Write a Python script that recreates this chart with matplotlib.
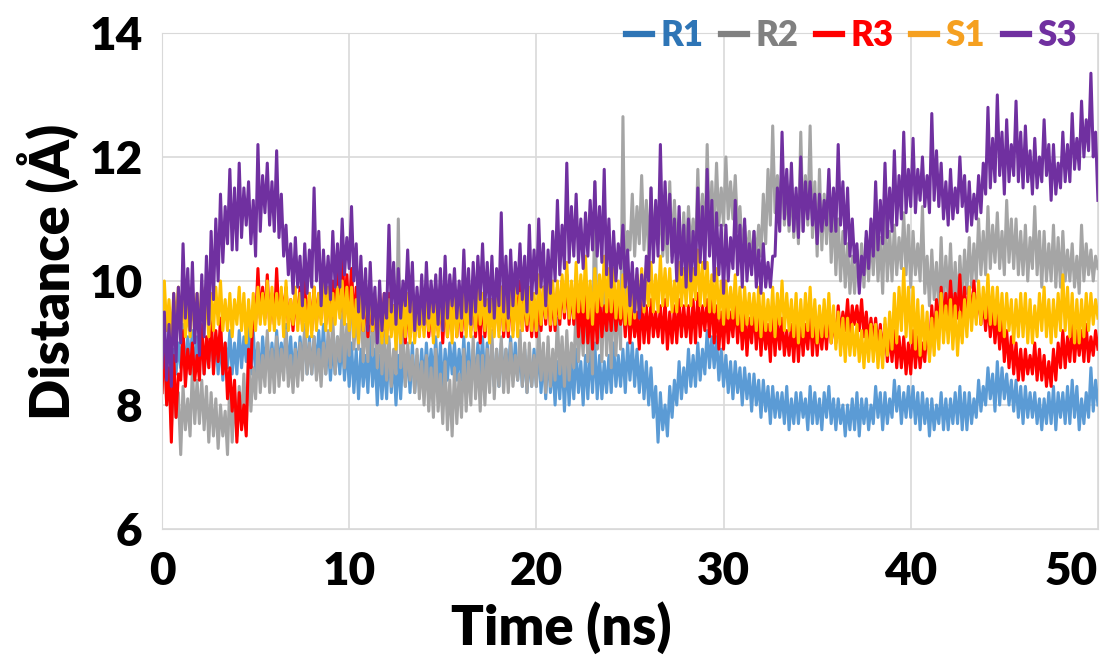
import numpy as np
import matplotlib
matplotlib.use("Agg")
import matplotlib.pyplot as plt

# time axis, one frame every 0.125 ns
time = np.linspace(0, 50, 401)

# distances (Angstrom), one row = 2 ns
r1 = [8.5, 9.1, 8.6, 9.2, 8.3, 8.9, 8.5, 9.0, 8.6, 9.3, 8.4, 9.1, 8.7, 9.2, 8.5, 9.1,
      8.6, 9.2, 8.5, 9.0, 8.7, 9.3, 8.6, 9.1, 8.5, 9.1, 8.4, 9.0, 8.6, 9.2, 8.5, 9.0,
      8.5, 9.2, 8.6, 9.1, 8.7, 9.3, 8.5, 9.2, 8.5, 9.0, 8.4, 9.1, 8.6, 9.1, 8.5, 9.0,
      8.5, 9.2, 8.6, 9.0, 8.6, 9.3, 8.5, 9.1, 8.4, 9.0, 8.5, 9.1, 8.6, 9.2, 8.5, 9.1,
      8.5, 9.1, 8.6, 9.2, 8.6, 9.3, 8.5, 9.0, 8.4, 9.0, 8.5, 9.1, 8.5, 9.1, 8.4, 9.0,
      8.3, 9.0, 8.2, 8.9, 8.1, 8.9, 8.3, 8.8, 8.2, 9.1, 8.3, 8.9, 8.0, 8.8, 8.1, 8.7,
      8.1, 9.0, 8.2, 8.8, 8.0, 8.8, 8.1, 8.9, 8.3, 8.9, 8.2, 9.0, 8.2, 8.8, 8.3, 8.9,
      8.3, 9.0, 8.4, 8.9, 8.4, 9.1, 8.3, 9.0, 8.2, 8.9, 8.4, 9.0, 8.5, 9.0, 8.4, 8.9,
      8.4, 9.1, 8.3, 9.0, 8.3, 8.9, 8.4, 9.0, 8.5, 9.1, 8.3, 9.0, 8.4, 8.9, 8.3, 8.9,
      8.3, 9.0, 8.4, 8.9, 8.5, 9.1, 8.4, 9.0, 8.4, 8.9, 8.3, 8.9, 8.2, 8.8, 8.3, 8.9,
      8.3, 9.0, 8.2, 8.8, 8.1, 8.9, 8.2, 8.7, 8.0, 8.7, 8.1, 8.8, 7.9, 8.8, 8.0, 8.7,
      8.1, 8.9, 8.2, 8.7, 8.0, 8.8, 8.1, 8.9, 8.2, 9.0, 8.1, 8.8, 8.1, 8.7, 8.2, 8.8,
      8.2, 9.0, 8.3, 8.8, 8.3, 8.9, 8.2, 9.0, 8.4, 9.0, 8.3, 8.9, 8.2, 8.8, 8.1, 8.7,
      8.0, 8.6, 7.8, 8.3, 7.4, 8.2, 7.6, 8.0, 7.5, 8.3, 7.8, 8.4, 8.0, 8.7, 8.1, 8.6,
      8.2, 8.9, 8.3, 8.8, 8.3, 9.0, 8.4, 8.9, 8.5, 9.2, 8.6, 9.1, 8.6, 9.1, 8.4, 8.9,
      8.3, 8.8, 8.2, 8.7, 8.1, 8.7, 8.2, 8.6, 8.0, 8.6, 8.1, 8.5, 7.9, 8.5, 8.0, 8.4,
      7.8, 8.4, 7.9, 8.3, 7.7, 8.3, 7.8, 8.2, 7.8, 8.2, 7.7, 8.3, 7.6, 8.1, 7.7, 8.2,
      7.7, 8.2, 7.8, 8.1, 7.6, 8.3, 7.7, 8.2, 7.7, 8.1, 7.6, 8.2, 7.8, 8.3, 7.7, 8.1,
      7.6, 8.1, 7.7, 8.0, 7.5, 8.0, 7.6, 8.1, 7.6, 8.2, 7.5, 8.1, 7.7, 8.1, 7.6, 8.0,
      7.7, 8.3, 7.8, 8.2, 7.6, 8.2, 7.7, 8.1, 7.8, 8.4, 7.9, 8.3, 7.7, 8.2, 7.8, 8.3,
      7.8, 8.3, 7.7, 8.2, 7.6, 8.2, 7.7, 8.1, 7.5, 8.1, 7.6, 8.0, 7.7, 8.2, 7.6, 8.1,
      7.6, 8.1, 7.7, 8.2, 7.7, 8.3, 7.6, 8.2, 7.6, 8.2, 7.7, 8.1, 7.8, 8.4, 7.9, 8.3,
      8.0, 8.6, 8.1, 8.5, 7.9, 8.7, 8.0, 8.6, 8.1, 8.5, 8.0, 8.4, 7.9, 8.4, 7.8, 8.3,
      7.7, 8.3, 7.8, 8.2, 7.8, 8.2, 7.7, 8.1, 7.6, 8.1, 7.7, 8.2, 7.7, 8.3, 7.6, 8.2,
      7.8, 8.2, 7.7, 8.3, 7.7, 8.4, 7.8, 8.3, 7.6, 8.1, 7.7, 8.2, 7.8, 8.6, 7.9, 8.4,
      8.0]

r2 = [8.2, 9.0, 8.0, 8.7, 7.6, 8.5, 7.8, 8.2, 7.2, 8.3, 7.6, 8.1, 7.5, 8.6, 7.7, 8.4,
      7.7, 8.4, 7.6, 8.3, 7.4, 8.2, 7.5, 8.1, 7.3, 8.0, 7.5, 7.9, 7.2, 8.4, 7.4, 8.2,
      7.5, 8.3, 7.7, 8.5, 7.6, 8.8, 7.9, 8.6, 8.1, 9.0, 8.2, 8.8, 8.3, 9.2, 8.2, 8.9,
      8.2, 9.1, 8.3, 8.9, 8.4, 9.2, 8.3, 8.8, 8.2, 8.9, 8.3, 9.0, 8.4, 9.3, 8.5, 9.0,
      8.5, 9.1, 8.4, 8.9, 8.3, 9.0, 8.5, 9.2, 8.6, 9.4, 8.5, 9.1, 8.7, 9.6, 8.6, 9.3,
      8.8, 10.2, 8.9, 9.5, 8.9, 9.8, 8.7, 9.4, 8.7, 10.0, 8.8, 9.6, 8.6, 9.4, 8.5, 9.2,
      8.4, 9.1, 8.3, 8.9, 8.5, 11.0, 8.6, 9.2, 8.3, 9.0, 8.4, 8.8, 8.2, 8.9, 8.1, 8.7,
      8.0, 8.8, 7.9, 8.6, 7.8, 8.9, 7.9, 8.5, 7.7, 8.7, 7.6, 8.4, 7.5, 8.6, 7.7, 8.5,
      7.8, 8.9, 7.9, 8.7, 8.0, 9.1, 8.1, 8.8, 7.9, 8.8, 8.0, 8.9, 8.2, 9.2, 8.1, 8.9,
      8.3, 9.1, 8.2, 8.9, 8.2, 9.0, 8.3, 8.8, 8.4, 9.2, 8.3, 9.0, 8.2, 9.0, 8.3, 8.8,
      8.3, 9.3, 8.4, 9.0, 8.2, 9.1, 8.3, 8.9, 8.4, 9.4, 8.5, 9.1, 8.3, 9.2, 8.4, 9.0,
      8.6, 9.6, 8.7, 9.4, 8.8, 9.8, 8.7, 9.5, 8.5, 11.6, 8.9, 9.6, 8.7, 9.9, 8.8, 9.7,
      8.6, 10.0, 8.8, 9.7, 8.9, 12.65, 9.6, 10.8, 10.5, 11.4, 10.4, 11.2, 10.6, 11.7, 10.5, 11.3,
      10.4, 11.5, 10.5, 11.2, 10.6, 11.2, 10.4, 11.0, 10.3, 11.6, 10.4, 11.3, 10.5, 11.0, 10.3, 11.1,
      10.3, 11.2, 10.5, 11.0, 10.4, 11.8, 10.6, 11.4, 10.5, 12.2, 10.7, 11.6, 10.8, 11.9, 10.9, 11.5,
      10.9, 12.0, 11.0, 11.6, 11.0, 11.7, 10.8, 11.2, 10.5, 10.9, 10.4, 10.8, 10.3, 10.8, 10.4, 10.9,
      10.4, 11.4, 10.6, 11.8, 10.9, 12.5, 11.1, 11.7, 11.0, 11.9, 10.9, 11.5, 10.8, 11.6, 10.7, 11.4,
      10.6, 12.4, 10.8, 11.7, 10.9, 12.5, 10.7, 11.6, 10.4, 11.8, 10.5, 11.4, 10.6, 11.5, 10.3, 11.2,
      10.1, 11.0, 10.0, 10.8, 9.9, 10.6, 9.8, 10.4, 9.8, 10.5, 9.9, 10.6, 9.9, 10.7, 10.0, 10.8,
      10.1, 11.0, 10.0, 10.7, 9.8, 11.1, 10.0, 10.8, 10.0, 10.9, 10.1, 10.7, 10.2, 11.1, 10.1, 10.9,
      9.9, 10.8, 10.1, 10.6, 10.0, 11.2, 9.8, 10.4, 9.6, 10.5, 9.7, 10.3, 9.5, 10.7, 9.6, 10.4,
      9.7, 10.6, 9.6, 10.3, 9.5, 10.4, 9.7, 10.5, 9.8, 10.7, 9.9, 10.6, 10.0, 11.0, 10.1, 10.8,
      10.1, 11.2, 10.2, 10.9, 10.3, 11.1, 10.2, 10.8, 10.1, 11.3, 10.3, 11.0, 10.2, 11.0, 10.1, 10.8,
      10.1, 10.9, 10.0, 10.7, 10.2, 11.2, 10.1, 10.8, 9.9, 10.8, 10.0, 10.6, 10.0, 10.9, 9.9, 10.7,
      9.9, 10.8, 10.0, 10.5, 10.0, 10.6, 9.9, 10.4, 9.8, 10.9, 10.0, 10.6, 10.1, 10.5, 10.0, 10.4,
      10.2]

r3 = [8.2, 9.1, 8.0, 8.6, 7.4, 8.8, 7.8, 8.5, 8.4, 9.2, 8.3, 8.9, 8.5, 9.0, 8.4, 8.8,
      8.4, 9.3, 8.5, 9.1, 8.6, 9.5, 8.5, 9.2, 8.7, 9.4, 8.5, 9.0, 8.1, 8.6, 7.9, 8.4,
      7.4, 8.2, 7.6, 8.0, 7.5, 8.9, 8.6, 9.6, 9.3, 10.2, 9.4, 9.9, 9.4, 10.1, 9.3, 9.8,
      9.3, 10.2, 9.4, 9.8, 9.5, 9.9, 9.3, 9.7, 9.2, 9.8, 9.3, 9.9, 9.3, 10.0, 9.2, 9.8,
      9.2, 9.9, 9.3, 9.8, 9.4, 10.1, 9.3, 9.9, 9.3, 10.0, 9.4, 10.2, 9.5, 10.7, 9.4, 10.1,
      9.4, 10.2, 9.3, 9.9, 9.3, 9.9, 9.2, 9.8, 9.1, 9.8, 9.2, 9.7, 9.2, 9.7, 9.1, 9.8,
      9.1, 9.8, 9.2, 9.6, 9.2, 9.7, 9.1, 9.8, 9.0, 9.6, 9.1, 9.7, 9.1, 9.7, 9.2, 9.6,
      9.2, 9.8, 9.1, 9.6, 9.1, 9.7, 9.2, 9.8, 9.0, 9.8, 9.1, 9.7, 9.2, 9.9, 9.1, 9.7,
      9.1, 9.7, 9.2, 9.8, 9.2, 9.9, 9.1, 9.7, 9.0, 9.8, 9.1, 9.6, 9.3, 9.7, 9.2, 9.8,
      9.2, 9.9, 9.1, 9.7, 9.1, 9.8, 9.2, 9.9, 9.3, 10.0, 9.2, 9.8, 9.2, 9.8, 9.1, 9.7,
      9.1, 9.7, 9.2, 9.9, 9.3, 10.0, 9.2, 9.8, 9.2, 9.9, 9.3, 10.0, 9.4, 10.1, 9.3, 9.9,
      9.3, 9.9, 9.1, 9.7, 9.0, 9.8, 9.0, 9.6, 8.9, 9.7, 9.0, 9.8, 9.1, 9.6, 9.2, 9.7,
      9.2, 9.8, 9.2, 9.6, 9.3, 9.7, 9.1, 9.8, 9.0, 9.6, 9.1, 9.5, 8.9, 9.7, 9.0, 9.6,
      9.0, 9.7, 9.1, 9.5, 9.1, 9.6, 9.0, 9.7, 8.9, 9.5, 9.0, 9.6, 9.0, 9.7, 9.1, 9.6,
      9.1, 9.6, 9.0, 9.7, 9.0, 9.8, 9.1, 9.6, 9.2, 9.7, 9.1, 9.8, 9.0, 9.6, 8.9, 9.5,
      8.9, 9.6, 9.0, 9.5, 9.1, 9.7, 9.0, 9.6, 8.9, 9.5, 8.8, 9.4, 9.0, 9.6, 8.9, 9.5,
      8.8, 9.4, 8.9, 9.3, 8.7, 9.5, 8.8, 9.4, 8.9, 9.4, 8.8, 9.2, 8.8, 9.3, 8.7, 9.4,
      8.7, 9.4, 8.8, 9.3, 8.9, 9.5, 8.8, 9.4, 8.8, 9.3, 8.9, 9.4, 8.9, 9.5, 9.0, 9.4,
      9.0, 9.6, 9.1, 9.5, 9.2, 9.7, 9.1, 9.6, 9.3, 9.6, 9.2, 9.7, 9.1, 9.5, 9.0, 9.4,
      9.0, 9.4, 8.9, 9.3, 8.8, 9.3, 8.7, 9.2, 8.7, 9.2, 8.6, 9.1, 8.6, 9.1, 8.5, 9.0,
      8.5, 9.2, 8.6, 9.1, 8.6, 9.0, 8.7, 9.3, 8.8, 9.6, 9.0, 9.7, 9.2, 9.9, 9.3, 9.8,
      9.3, 10.0, 9.4, 9.8, 9.4, 10.1, 9.3, 9.9, 9.3, 9.9, 9.4, 10.0, 9.4, 9.8, 9.3, 9.7,
      9.2, 9.7, 9.1, 9.6, 9.0, 9.5, 8.9, 9.4, 8.7, 9.2, 8.6, 9.1, 8.5, 9.0, 8.4, 8.9,
      8.4, 8.9, 8.5, 8.8, 8.5, 9.0, 8.4, 8.9, 8.4, 8.8, 8.3, 8.7, 8.3, 8.9, 8.4, 9.0,
      8.6, 9.2, 8.6, 9.1, 8.7, 9.3, 8.7, 9.2, 8.8, 9.2, 8.7, 9.3, 8.7, 9.1, 8.8, 9.2,
      8.9]

s1 = [9.4, 10.0, 9.2, 9.7, 9.0, 9.8, 9.3, 9.9, 9.2, 9.9, 9.1, 9.6, 9.1, 9.7, 9.3, 9.8,
      9.2, 9.9, 9.3, 9.7, 9.1, 9.8, 9.2, 9.9, 9.3, 10.0, 9.2, 9.7, 9.2, 9.8, 9.1, 9.7,
      9.3, 9.9, 9.2, 9.8, 9.0, 9.7, 9.1, 9.8, 9.2, 9.9, 9.3, 9.8, 9.3, 10.0, 9.2, 9.9,
      9.2, 9.8, 9.3, 9.9, 9.1, 10.0, 9.2, 9.7, 9.3, 9.9, 9.2, 9.8, 9.2, 9.7, 9.1, 9.8,
      9.1, 9.9, 9.2, 9.8, 9.3, 10.1, 9.2, 9.9, 9.2, 9.8, 9.3, 9.9, 9.4, 10.0, 9.3, 9.9,
      9.2, 9.9, 9.1, 9.7, 9.0, 9.8, 9.2, 9.9, 9.3, 9.9, 9.2, 9.7, 9.1, 9.8, 9.0, 9.7,
      9.0, 9.7, 9.1, 9.6, 8.9, 9.6, 9.0, 9.7, 9.1, 9.8, 9.0, 9.7, 9.0, 9.6, 9.1, 9.7,
      9.1, 9.8, 9.2, 9.7, 9.0, 9.7, 9.1, 9.8, 9.2, 9.9, 9.1, 9.8, 9.0, 9.8, 9.1, 9.7,
      9.2, 9.9, 9.1, 9.8, 9.1, 10.0, 9.2, 9.9, 9.3, 9.8, 9.2, 9.7, 9.0, 9.7, 9.1, 9.8,
      9.1, 9.9, 9.2, 9.8, 9.2, 10.0, 9.1, 9.9, 9.1, 9.8, 9.2, 9.9, 9.3, 9.9, 9.2, 9.8,
      9.2, 10.1, 9.3, 9.9, 9.4, 10.2, 9.3, 10.0, 9.3, 10.0, 9.4, 10.1, 9.5, 10.3, 9.4, 10.0,
      9.4, 10.3, 9.5, 10.1, 9.5, 10.4, 9.4, 10.0, 9.3, 10.2, 9.5, 10.1, 9.6, 10.4, 9.5, 10.2,
      9.5, 10.2, 9.4, 10.0, 9.4, 10.1, 9.3, 9.9, 9.3, 10.0, 9.4, 10.1, 9.5, 10.2, 9.5, 10.0,
      9.6, 10.3, 9.5, 10.1, 9.5, 10.4, 9.6, 10.2, 9.6, 10.2, 9.5, 10.0, 9.5, 10.3, 9.6, 10.2,
      9.6, 10.4, 9.6, 10.2, 9.7, 10.5, 9.6, 10.3, 9.6, 10.3, 9.5, 10.1, 9.5, 10.2, 9.4, 10.0,
      9.3, 10.0, 9.4, 9.9, 9.4, 10.1, 9.3, 9.9, 9.2, 9.9, 9.3, 9.8, 9.3, 9.8, 9.2, 9.9,
      9.1, 9.8, 9.2, 9.7, 9.2, 9.9, 9.1, 9.8, 9.3, 10.0, 9.2, 9.8, 9.2, 9.7, 9.1, 9.8,
      9.0, 9.7, 9.1, 9.8, 9.2, 9.9, 9.1, 9.7, 9.0, 9.6, 9.1, 9.7, 9.1, 9.8, 9.0, 9.6,
      8.9, 9.5, 8.8, 9.4, 8.7, 9.4, 8.8, 9.3, 8.8, 9.3, 8.7, 9.2, 8.6, 9.2, 8.7, 9.3,
      8.7, 9.3, 8.6, 9.2, 8.6, 9.4, 8.8, 9.5, 8.9, 9.8, 9.0, 9.9, 9.2, 10.2, 9.1, 9.9,
      9.0, 9.9, 8.9, 9.7, 8.8, 9.6, 8.9, 9.5, 8.7, 9.4, 8.8, 9.5, 8.9, 9.8, 9.0, 9.6,
      9.0, 9.7, 8.9, 9.6, 8.8, 9.5, 9.0, 9.7, 9.1, 9.9, 9.2, 9.8, 9.3, 10.0, 9.3, 9.9,
      9.4, 10.1, 9.3, 9.9, 9.3, 9.9, 9.2, 9.8, 9.1, 9.8, 9.2, 9.7, 9.0, 9.7, 9.1, 9.8,
      9.1, 9.8, 9.0, 9.7, 9.0, 9.6, 9.1, 9.8, 9.2, 9.9, 9.1, 9.7, 9.0, 9.7, 9.1, 9.8,
      9.2, 10.1, 9.2, 9.9, 9.1, 9.8, 9.0, 9.7, 9.0, 9.7, 9.1, 9.8, 9.2, 9.8, 9.3, 9.7,
      9.4]

s3 = [8.6, 9.5, 8.4, 9.3, 8.3, 9.8, 8.7, 9.9, 9.0, 10.6, 9.4, 10.2, 9.2, 10.3, 9.0, 9.8,
      8.8, 10.1, 9.1, 10.4, 9.3, 10.8, 9.7, 11.0, 10.0, 11.4, 10.3, 11.2, 10.6, 11.8, 10.5, 11.5,
      10.5, 11.9, 10.7, 11.5, 10.9, 11.6, 10.6, 11.3, 10.4, 12.2, 10.8, 11.7, 11.1, 11.9, 10.9, 11.6,
      10.8, 12.1, 10.7, 11.4, 10.4, 10.9, 10.1, 10.6, 9.8, 10.7, 9.9, 10.4, 9.6, 10.6, 9.8, 10.5,
      9.9, 11.5, 10.0, 10.8, 9.6, 10.5, 9.8, 10.4, 9.7, 10.8, 9.9, 10.6, 9.9, 11.0, 10.1, 10.7,
      10.2, 11.2, 10.0, 10.6, 9.5, 10.4, 9.4, 10.2, 9.2, 10.3, 9.3, 9.9, 9.0, 10.0, 9.2, 9.8,
      9.4, 10.9, 9.5, 10.3, 9.3, 10.2, 9.4, 10.0, 9.6, 10.5, 9.5, 10.3, 9.2, 9.9, 9.3, 10.1,
      9.3, 10.3, 9.4, 10.0, 9.5, 10.1, 9.3, 10.2, 9.2, 10.4, 9.4, 10.1, 9.6, 10.2, 9.4, 10.0,
      9.4, 10.5, 9.5, 10.2, 9.3, 10.3, 9.5, 10.4, 9.7, 10.6, 9.6, 10.3, 9.5, 10.4, 9.4, 10.2,
      9.6, 11.1, 9.5, 10.4, 9.4, 10.5, 9.6, 10.3, 9.8, 10.6, 9.7, 10.4, 9.5, 10.9, 9.7, 10.5,
      9.8, 11.0, 9.9, 10.6, 9.6, 10.5, 9.8, 10.8, 10.0, 11.3, 10.1, 10.9, 10.2, 11.9, 10.3, 11.2,
      10.4, 11.4, 10.3, 11.0, 10.2, 11.1, 10.4, 11.3, 10.5, 11.6, 10.4, 11.2, 10.3, 11.8, 10.1, 11.0,
      9.9, 10.8, 10.0, 10.6, 10.2, 10.9, 9.9, 10.5, 9.6, 10.3, 9.5, 10.2, 9.4, 10.1, 9.6, 10.4,
      10.0, 11.5, 10.3, 11.3, 10.4, 12.2, 10.5, 11.6, 10.6, 11.4, 10.3, 11.0, 10.0, 11.2, 10.1, 10.9,
      9.9, 11.0, 10.0, 10.8, 10.1, 11.5, 10.3, 11.2, 10.2, 11.8, 10.4, 11.3, 10.0, 11.1, 10.1, 10.9,
      9.8, 10.9, 10.0, 10.7, 10.2, 11.3, 10.1, 10.9, 9.9, 11.0, 10.0, 10.6, 10.1, 10.8, 9.9, 10.5,
      9.8, 10.6, 9.9, 10.3, 9.9, 10.4, 10.4, 11.5, 10.8, 12.4, 11.0, 11.8, 10.9, 11.9, 10.8, 11.5,
      10.7, 12.0, 10.8, 11.6, 11.0, 11.6, 10.9, 11.4, 10.6, 11.4, 10.8, 11.3, 10.9, 11.8, 10.8, 11.5,
      10.8, 12.2, 10.9, 11.6, 10.6, 11.5, 10.4, 11.0, 10.3, 10.6, 9.8, 10.4, 10.1, 10.8, 10.2, 11.0,
      10.4, 11.6, 10.5, 11.3, 10.6, 11.9, 10.7, 11.5, 10.8, 12.1, 10.9, 11.7, 11.0, 12.4, 11.1, 11.8,
      11.2, 12.3, 11.1, 11.8, 11.3, 12.0, 11.2, 11.7, 11.1, 12.7, 11.3, 12.1, 11.2, 11.9, 11.0, 11.6,
      10.9, 11.8, 11.0, 11.5, 11.1, 12.0, 11.2, 11.7, 10.8, 11.6, 10.9, 11.4, 11.0, 11.7, 11.1, 11.9,
      11.4, 12.8, 11.5, 12.3, 11.6, 13.0, 11.7, 12.4, 11.4, 12.6, 11.6, 12.2, 11.7, 12.9, 11.6, 12.4,
      11.5, 12.5, 11.6, 12.1, 11.4, 12.3, 11.5, 12.0, 11.6, 12.6, 11.7, 12.2, 11.3, 12.2, 11.4, 11.9,
      11.5, 12.4, 11.6, 12.2, 11.6, 12.7, 11.8, 12.3, 11.8, 12.9, 12.0, 12.6, 12.1, 13.35, 12.0, 12.4,
      11.3]

labels = ["R1", "R2", "R3", "S1", "S3"]
line_colors = ["#5B9BD5", "#A5A5A5", "#FF0000", "#FFC000", "#7030A0"]
text_colors = ["#2E75B6", "#808080", "#FF0000", "#F5A020", "#7030A0"]

plt.rcParams["font.family"] = "Lato"
plt.rcParams["font.weight"] = "bold"

fig = plt.figure(figsize=(11.05, 6.58), dpi=100)
ax = fig.add_axes([0.1466, 0.196, 0.847, 0.754])

for y, c, lab in zip([r1, r2, r3, s1, s3], line_colors, labels):
    ax.plot(time, y, color=c, lw=2.2, label=lab)

ax.set_xlim(0, 50)
ax.set_ylim(6, 14)
ax.set_xticks([0, 10, 20, 30, 40, 50])
ax.set_yticks([6, 8, 10, 12, 14])
ax.grid(True, color="#D9D9D9", lw=1.2)
ax.set_axisbelow(True)
for s in ax.spines.values():
    s.set_color("#D9D9D9")
ax.tick_params(axis="x", length=0, labelsize=33, pad=16)
ax.tick_params(axis="y", length=0, labelsize=33, pad=14)
for t in ax.get_xticklabels() + ax.get_yticklabels():
    t.set_fontweight("heavy")
# last x label is pulled inside the chart, like the original
ax.get_xticklabels()[-1].set_horizontalalignment("right")

# axis titles are centred on the whole chart, Excel style
fig.text(0.508, 0.02, "Time (ns)", ha="center", va="baseline",
         fontsize=39, fontweight="heavy")
fig.text(0.043, 0.587, "Distance (Å)", ha="center", va="center",
         rotation=90, fontsize=39, fontweight="heavy")

leg = fig.legend(loc="upper right", bbox_to_anchor=(1.003, 1.018), ncol=5,
                 frameon=False, handlelength=0.75,
                 handletextpad=0.25, columnspacing=0.5,
                 labelcolor=text_colors, prop={"weight": "heavy", "size": 25})
for h, c in zip(leg.legend_handles, text_colors):
    h.set_color(c)
    h.set_linewidth(4.5)

plt.savefig("out.png", dpi=100)
